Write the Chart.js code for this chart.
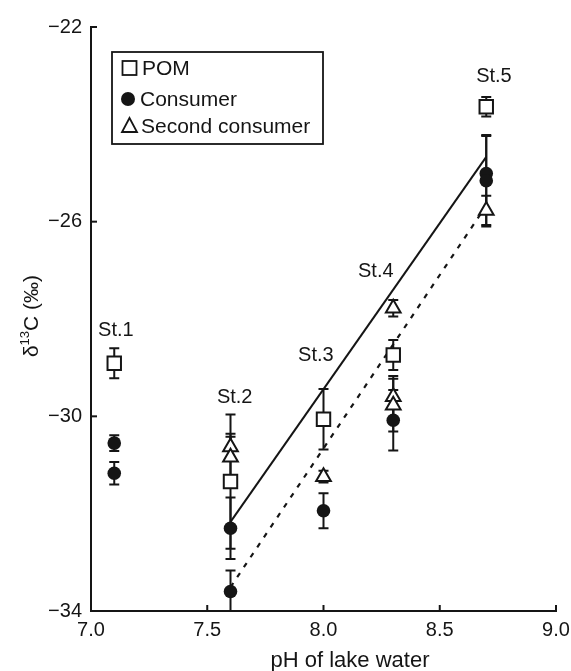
<!DOCTYPE html>
<html>
<head>
<meta charset="utf-8">
<script src="https://cdn.jsdelivr.net/npm/chart.js@4/dist/chart.umd.min.js"></script>
<style>
  html, body { margin: 0; padding: 0; background: #ffffff; }
  #wrap { width: 571px; height: 671px; }
</style>
</head>
<body>
<div id="wrap"><canvas id="c" width="571" height="671"></canvas></div>
<script>
// ---------------- data ----------------
const pomX = [7.1, 7.6, 8.0, 8.3, 8.7];
const pomY = [-28.91, -31.34, -30.06, -28.74, -23.64];
const pomErr = [0.31, 1.38, 0.62, 0.31, 0.20];

const consumerX = [7.1, 7.1, 7.6, 7.6, 8.0, 8.3, 8.7, 8.7];
const consumerY = [-30.55, -31.17, -32.30, -33.60, -31.94, -30.08, -25.01, -25.16];
const consumerErr = [0.16, 0.23, 0.63, 0.43, 0.36, 0.62, 0.77, 0.94];

const secondX = [7.6, 7.6, 8.0, 8.3, 8.3, 8.3, 8.7];
const secondY = [-30.63, -30.84, -31.24, -27.78, -29.60, -29.77, -25.77];
const secondErr = [0.27, 0.42, 0.12, 0.17, 0.43, 0.54, 0.30];

const solidFitX = [7.6, 8.7];
const solidFitY = [-32.17, -24.67];
const dottedFitX = [7.6, 8.7];
const dottedFitY = [-33.51, -25.67];

const stationLabels = ['St.1', 'St.2', 'St.3', 'St.4', 'St.5'];
const stationLabelX = [7.107, 7.618, 7.967, 8.225, 8.733];
const stationLabelY = [-28.23, -29.62, -28.74, -27.03, -23.02];

const xTickValues = [7.0, 7.5, 8.0, 8.5, 9.0];
const xTickLabels = ['7.0', '7.5', '8.0', '8.5', '9.0'];
const yTickValues = [-34, -30, -26, -22];
const yTickLabels = ['\u221234', '\u221230', '\u221226', '\u221222'];

const legendLabels = ['POM', 'Consumer', 'Second consumer'];
const xTitle = 'pH of lake water';

// ---------------- styling ----------------
const FONT = '"Liberation Sans", Arial, Helvetica, sans-serif';
const INK = '#151515';

const pts = (xs, ys) => xs.map((x, i) => ({ x: x, y: ys[i] }));

const errorSets = [
  { xs: pomX, ys: pomY, es: pomErr },
  { xs: consumerX, ys: consumerY, es: consumerErr },
  { xs: secondX, ys: secondY, es: secondErr }
];

const errorBarPlugin = {
  id: 'errorBars',
  beforeDatasetsDraw(chart) {
    const { ctx, chartArea, scales } = chart;
    ctx.save();
    ctx.beginPath();
    ctx.rect(chartArea.left, chartArea.top - 10, chartArea.right - chartArea.left, chartArea.bottom - chartArea.top + 10);
    ctx.clip();
    ctx.strokeStyle = INK;
    ctx.lineWidth = 2;
    errorSets.forEach(s => {
      s.xs.forEach((x, i) => {
        const px = scales.x.getPixelForValue(x);
        const pt = scales.y.getPixelForValue(s.ys[i] + s.es[i]);
        const pb = scales.y.getPixelForValue(s.ys[i] - s.es[i]);
        ctx.beginPath();
        ctx.moveTo(px, pt); ctx.lineTo(px, pb);
        ctx.moveTo(px - 5, pt); ctx.lineTo(px + 5, pt);
        ctx.moveTo(px - 5, pb); ctx.lineTo(px + 5, pb);
        ctx.stroke();
      });
    });
    ctx.restore();
  }
};

const decorPlugin = {
  id: 'decor',
  afterDraw(chart) {
    const { ctx, chartArea, scales } = chart;
    ctx.save();
    // inward tick marks
    ctx.strokeStyle = INK;
    ctx.lineWidth = 2;
    xTickValues.forEach(v => {
      const px = scales.x.getPixelForValue(v);
      ctx.beginPath();
      ctx.moveTo(px, chartArea.bottom);
      ctx.lineTo(px, chartArea.bottom - 6);
      ctx.stroke();
    });
    yTickValues.forEach(v => {
      const py = scales.y.getPixelForValue(v);
      ctx.beginPath();
      ctx.moveTo(chartArea.left, py);
      ctx.lineTo(chartArea.left + 6, py);
      ctx.stroke();
    });

    // station labels
    ctx.fillStyle = INK;
    ctx.font = '20px ' + FONT;
    ctx.textAlign = 'center';
    ctx.textBaseline = 'middle';
    stationLabels.forEach((t, i) => {
      ctx.fillText(t, scales.x.getPixelForValue(stationLabelX[i]), scales.y.getPixelForValue(stationLabelY[i]));
    });

    // legend box
    const lx = 112, ly = 52, lw = 211, lh = 92;
    ctx.lineWidth = 1.8;
    ctx.strokeStyle = INK;
    ctx.strokeRect(lx, ly, lw, lh);
    const rowY = [68, 99, 126];
    const markX = 129.5;
    ctx.font = '21px ' + FONT;
    ctx.textAlign = 'left';
    ctx.textBaseline = 'middle';
    // POM marker
    ctx.lineWidth = 1.8;
    ctx.fillStyle = '#ffffff';
    ctx.fillRect(markX - 7, rowY[0] - 7, 14, 14);
    ctx.strokeRect(markX - 7, rowY[0] - 7, 14, 14);
    // consumer marker
    ctx.fillStyle = INK;
    ctx.beginPath();
    ctx.arc(markX - 1.5, rowY[1], 7, 0, Math.PI * 2);
    ctx.fill();
    // triangle marker
    ctx.beginPath();
    ctx.moveTo(markX, rowY[2] - 8);
    ctx.lineTo(markX + 7.5, rowY[2] + 6);
    ctx.lineTo(markX - 7.5, rowY[2] + 6);
    ctx.closePath();
    ctx.stroke();
    ctx.fillStyle = INK;
    ctx.fillText(legendLabels[0], 142, rowY[0] + 1);
    ctx.fillText(legendLabels[1], 140, rowY[1] + 1);
    ctx.fillText(legendLabels[2], 141, rowY[2] + 1);

    // x title
    ctx.font = '22px ' + FONT;
    ctx.textAlign = 'center';
    ctx.textBaseline = 'alphabetic';
    ctx.fillText(xTitle, 350, 667);

    // y title: delta^13C (permille), rotated
    ctx.translate(38, 316);
    ctx.rotate(-Math.PI / 2);
    const big = '21px ' + FONT, small = '13px ' + FONT;
    ctx.font = big; const w1 = ctx.measureText('\u03b4').width;
    ctx.font = small; const w2 = ctx.measureText('13').width;
    ctx.font = big; const w3 = ctx.measureText('C (\u2030)').width;
    let x0 = -(w1 + w2 + w3) / 2;
    ctx.textAlign = 'left';
    ctx.font = big; ctx.fillText('\u03b4', x0, 0);
    ctx.font = small; ctx.fillText('13', x0 + w1, -9);
    ctx.font = big; ctx.fillText('C (\u2030)', x0 + w1 + w2, 0);
    ctx.restore();
  }
};

new Chart(document.getElementById('c'), {
  type: 'scatter',
  data: {
    datasets: [
      {
        label: legendLabels[0], data: pts(pomX, pomY), order: 0,
        pointStyle: 'rect', pointRadius: 9.5, pointBorderWidth: 2,
        pointBackgroundColor: '#ffffff', pointBorderColor: INK
      },
      {
        label: legendLabels[1], data: pts(consumerX, consumerY), order: 0,
        pointStyle: 'circle', pointRadius: 6.8, pointBorderWidth: 0,
        pointBackgroundColor: INK, pointBorderColor: INK
      },
      {
        label: legendLabels[2], data: pts(secondX, secondY), order: 0,
        pointStyle: 'triangle', pointRadius: 8.5, pointBorderWidth: 2,
        pointBackgroundColor: '#ffffff', pointBorderColor: INK
      },
      {
        type: 'line', label: 'fit1', data: pts(solidFitX, solidFitY), order: 1,
        borderColor: INK, borderWidth: 2, pointRadius: 0, fill: false
      },
      {
        type: 'line', label: 'fit2', data: pts(dottedFitX, dottedFitY), order: 1,
        borderColor: INK, borderWidth: 2.2, borderDash: [5, 7], pointRadius: 0, fill: false
      }
    ]
  },
  options: {
    responsive: false,
    animation: false,
    devicePixelRatio: 1,
    layout: { padding: { top: 27, right: 15, left: 0, bottom: 0 } },
    plugins: { legend: { display: false }, tooltip: { enabled: false }, title: { display: false } },
    scales: {
      x: {
        type: 'linear', min: 7, max: 9,
        afterBuildTicks: s => { s.ticks = xTickValues.map(v => ({ value: v })); },
        afterFit: s => { s.height = 60; s.paddingLeft = 0; s.paddingRight = 0; },
        grid: { display: false, drawTicks: false },
        border: { display: true, color: INK, width: 2 },
        ticks: {
          autoSkip: false, maxRotation: 0, padding: 7, color: INK,
          font: { family: FONT, size: 20 },
          callback: (v, i) => xTickLabels[i]
        }
      },
      y: {
        type: 'linear', min: -34, max: -22,
        afterBuildTicks: s => { s.ticks = yTickValues.map(v => ({ value: v })); },
        afterFit: s => { s.width = 91; s.paddingTop = 0; s.paddingBottom = 0; },
        grid: { display: false, drawTicks: false },
        border: { display: true, color: INK, width: 2 },
        ticks: {
          autoSkip: false, padding: 9, color: INK,
          font: { family: FONT, size: 20 },
          callback: (v, i) => yTickLabels[i]
        }
      }
    }
  },
  plugins: [errorBarPlugin, decorPlugin]
});
</script>
</body>
</html>
